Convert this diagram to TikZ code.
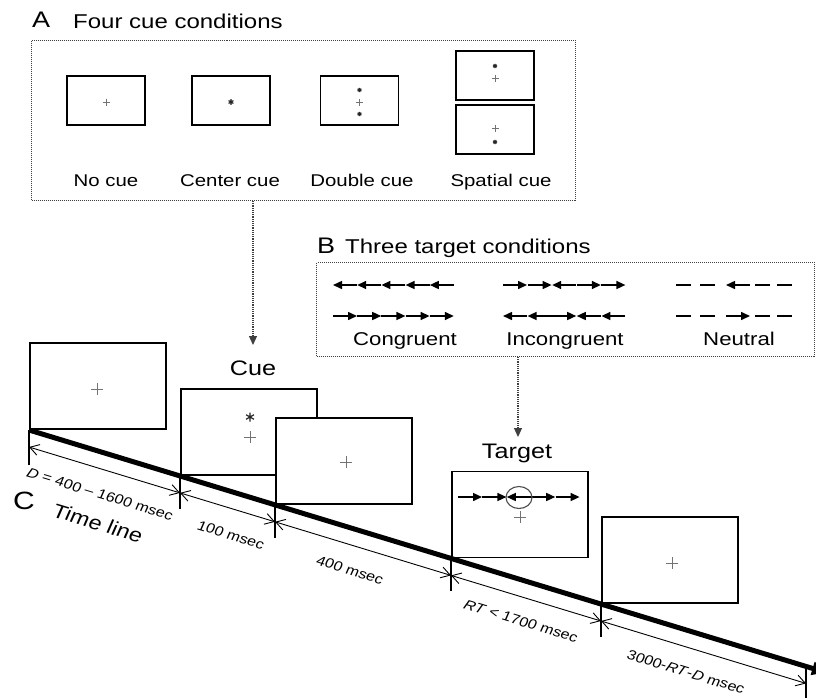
\documentclass[tikz,border=0pt]{standalone}
\usepackage{fontspec}
\setmainfont{Liberation Sans}
\usetikzlibrary{arrows.meta,calc}

% text set slightly wide, as in the original figure
\newcommand{\stx}[1]{\scalebox{1.2}[1]{#1}}
% text running along the time line
\newcommand{\tlab}[1]{\scalebox{1.2}[1]{\rotatebox{-20}{#1}}}
% fixation cross: centre, half size
\newcommand{\crs}[2]{\draw[crossline] ($#1+(-#2,0)$) -- ($#1+(#2,0)$) ($#1+(0,-#2)$) -- ($#1+(0,#2)$);}
% asterisk cue: centre, radius
\newcommand{\astr}[2]{\draw[astline] #1 ++(90:#2) -- ++(270:2*#2) #1 ++(30:#2) -- ++(210:2*#2) #1 ++(150:#2) -- ++(330:2*#2);}
% flanker arrows (right, left) and neutral dash
\newcommand{\flR}[2]{\draw[flk] (#1,#2) -- ++(24,0);}
\newcommand{\flL}[2]{\draw[flk] (#1+24,#2) -- (#1,#2);}
\newcommand{\flN}[2]{\draw[neutline] (#1,#2) -- ++(15,0);}

\begin{document}
\begin{tikzpicture}[x=1pt,y=-1pt,
  cframe/.style={draw, line width=1.9pt, fill=white, minimum width=136pt, minimum height=86pt, inner sep=0pt, anchor=south west},
  sframe/.style={draw, line width=1.7pt, minimum width=78pt, minimum height=49pt, inner sep=0pt},
  panel/.style={draw=black!75, densely dotted, line width=1pt, inner sep=0pt, anchor=north west},
  feed/.style={draw=black!75, densely dotted, line width=1.2pt, -{Triangle[length=9pt,width=8pt]}},
  crossline/.style={draw=black!55, line width=0.9pt},
  astline/.style={draw=black!85, line width=1.2pt},
  flk/.style={line width=1.5pt, -{Triangle[length=9pt,width=8pt]}},
  neutline/.style={line width=1.5pt},
  tickline/.style={line width=1.3pt},
  spanline/.style={line width=0.9pt, {Straight Barb[length=9pt,width=11pt]}-{Straight Barb[length=9pt,width=11pt]}},
  timeaxis/.style={line width=5pt, -{Triangle[length=14pt,width=13pt]}},
  title/.style={font=\fontsize{20}{24}\selectfont, anchor=base west, inner sep=0pt},
  letter/.style={font=\fontsize{22.5}{26}\selectfont, anchor=base west, inner sep=0pt},
  condA/.style={font=\fontsize{17}{20}\selectfont, anchor=base, inner sep=0pt},
  condB/.style={font=\fontsize{18.5}{22}\selectfont, anchor=base, inner sep=0pt},
  stage/.style={font=\fontsize{21}{25}\selectfont, anchor=base, inner sep=0pt},
  dur/.style={font=\fontsize{13.5}{16}\selectfont, inner sep=0pt},
]
\useasboundingbox (0,0) rectangle (816,697);

% ---------------- A: four cue conditions ----------------
\node[letter] (lblA) at (32,27) {\stx{A}};
\node[title] (titA) at (73,28) {\stx{Four cue conditions}};
\node[panel, minimum width=544pt, minimum height=160pt] (boxA) at (31,40) {};

\node[sframe] (nocue) at (106,100.5) {};
\node[sframe] (ctrcue) at (231,100.5) {};
\node[sframe] (dblcue) at (359.5,100.5) {};
\node[sframe] (sptop) at (495,75.5) {};
\node[sframe] (spbot) at (495,129.5) {};

\crs{(106,102)}{3.5}
\astr{(231,102)}{2.8}
\astr{(359.5,90)}{2.2}
\crs{(359.5,102)}{3.5}
\astr{(359.5,114)}{2.2}
\astr{(495,66)}{2.2}
\crs{(495,78)}{3.5}
\crs{(495,128)}{3.5}
\astr{(495,142)}{2.2}

\node[condA] (lnocue) at (106,186) {\stx{No cue}};
\node[condA] (lctr) at (230,186) {\stx{Center cue}};
\node[condA] (ldbl) at (362,186) {\stx{Double cue}};
\node[condA] (lspt) at (501,186) {\stx{Spatial cue}};

% ---------------- B: three target conditions ----------------
\node[letter] (lblB) at (317,253) {\stx{B}};
\node[title] (titB) at (345,253) {\stx{Three target conditions}};
\node[panel, minimum width=498pt, minimum height=94pt] (boxB) at (316,262) {};

% congruent
\flL{333}{285}\flL{357.2}{285}\flL{381.4}{285}\flL{405.6}{285}\flL{429.8}{285}
\flR{333}{316}\flR{357.2}{316}\flR{381.4}{316}\flR{405.6}{316}\flR{429.8}{316}
% incongruent
\flR{503}{285}\flR{527.6}{285}\flL{552.2}{285}\flR{576.8}{285}\flR{601.4}{285}
\flL{503}{316}\flL{527.6}{316}\flR{552.2}{316}\flL{576.8}{316}\flL{601.4}{316}
% neutral
\flN{676}{285}\flN{700}{285}\flL{726}{285}\flN{755}{285}\flN{777}{285}
\flN{676}{316}\flN{700}{316}\flR{726}{316}\flN{755}{316}\flN{777}{316}

\node[condB] (lcong) at (405,345) {\stx{Congruent}};
\node[condB] (lincong) at (565,345) {\stx{Incongruent}};
\node[condB] (lneut) at (739,345) {\stx{Neutral}};

% ---------------- C: time line ----------------
\node[cframe] (f1) at (29,430) {};
\node[cframe] (f2) at (180,475.9) {};
\node[cframe] (f3) at (275,504.8) {};
\node[cframe] (f4) at (451,558.4) {};
\node[cframe] (f5) at (601,604) {};
\coordinate (t6) at (806,666.4);
\coordinate (tend) at (826,672.5);

\crs{(97,389)}{6}
\astr{(250,417)}{4.5}
\crs{(250,437)}{6}
\crs{(346,462)}{6}
\flR{458}{497}\flR{482.4}{497}\flL{506.8}{497}\flR{531.2}{497}\flR{555.6}{497}
\draw[draw=black!70, line width=1.1pt] (519,497.5) ellipse [x radius=13, y radius=11];
\crs{(520,517)}{6}
\crs{(672,563)}{6}

\node[stage] (lcue) at (253,375) {\stx{Cue}};
\node[stage] (ltgt) at (517,458) {\stx{Target}};
\coordinate (cueTip) at (253,345);
\coordinate (tgtTip) at (518,437);
\draw[feed] (boxA.south -| cueTip) -- (cueTip);
\draw[feed] (boxB.south -| tgtTip) -- (tgtTip);

\draw[timeaxis] (f1.south west) -- (tend);

\draw[tickline] (f1.south west) -- ++(0,35);
\draw[tickline] (f2.south west) -- ++(0,33);
\draw[tickline] (f3.south west) -- ++(0,33);
\draw[tickline] (f4.south west) -- ++(0,33);
\draw[tickline] (f5.south west) -- ++(0,33);
\draw[tickline] (t6) -- ++(0,40);

\draw[spanline] ($(f1.south west)+(0,17)$) -- ($(f2.south west)+(0,17)$);
\draw[spanline] ($(f2.south west)+(0,17)$) -- ($(f3.south west)+(0,17)$);
\draw[spanline] ($(f3.south west)+(0,17)$) -- ($(f4.south west)+(0,17)$);
\draw[spanline] ($(f4.south west)+(0,17)$) -- ($(f5.south west)+(0,17)$);
\draw[spanline] ($(f5.south west)+(0,17)$) -- ($(t6)+(0,17)$);

\node[dur] (d1) at (100,494) {\tlab{\textit{D} = 400 – 1600 msec}};
\node[dur] (d2) at (231,535) {\tlab{100 msec}};
\node[dur] (d3) at (350,570) {\tlab{400 msec}};
\node[dur] (d4) at (521,621) {\tlab{\textit{RT} < 1700 msec}};
\node[dur] (d5) at (686,672) {\tlab{3000-\textit{RT}-\textit{D} msec}};

\node[font=\fontsize{25}{29}\selectfont, inner sep=0pt] (lblC) at (24,501) {\stx{C}};
\node[font=\fontsize{19.5}{23}\selectfont, inner sep=0pt] (ltime) at (98,523) {\tlab{Time line}};
\end{tikzpicture}
\end{document}
